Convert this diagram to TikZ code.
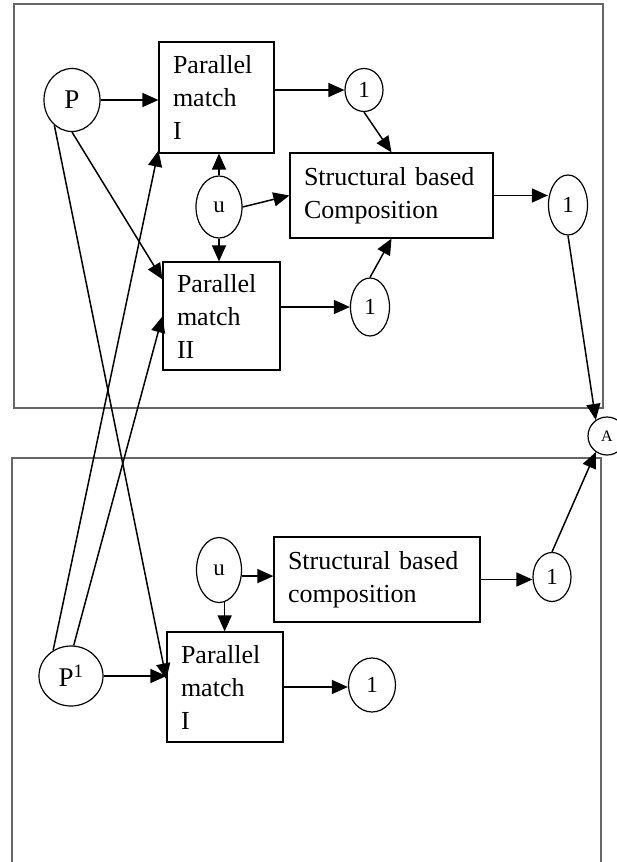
\documentclass[tikz,border=0pt]{standalone}
\usepackage{fontspec}
\setmainfont{Liberation Serif}
\usetikzlibrary{shapes.geometric,arrows.meta}
\begin{document}
\begin{tikzpicture}[x=1pt,y=-1pt,
    box/.style={draw,rectangle,line width=1.2pt,inner xsep=14pt,inner ysep=0pt,
        align=left,font=\fontsize{26}{33}\selectfont},
    circ/.style={draw,ellipse,fill=white,line width=1.2pt,inner sep=0pt,
        font=\fontsize{23}{23}\selectfont},
    frame/.style={draw=black!60,line width=1.6pt},
    arr/.style={-{Triangle[length=16pt,width=14pt]},line width=1.5pt}]
    \useasboundingbox (0,0) rectangle (617,862);
    % frames
    \draw[frame] (14,4) rectangle (603,408);
    \draw[frame] (12,862) -- (12,458) -- (601,458) -- (601,862);
    % upper part
    \node[circ,minimum width=56pt,minimum height=63pt,font=\fontsize{27}{27}\selectfont] (P) at (72,100) {P};
    \node[box,text width=87pt,minimum height=111pt] (pmA) at (216.5,97.5) {Parallel\\match\\I};
    \node[circ,minimum width=38pt,minimum height=43pt] (oneA) at (364,90) {1};
    \node[box,text width=175pt,minimum height=85pt] (struct) at (391.5,195.5) {Structural based\\Composition};
    \node[circ,minimum width=46pt,minimum height=62pt] (u) at (219,207) {u};
    \node[circ,minimum width=39pt,minimum height=60pt] (oneR) at (568,205) {1};
    \node[box,text width=89pt,minimum height=108pt] (pmB) at (221.5,316) {Parallel\\match\\II};
    \node[circ,minimum width=39pt,minimum height=58pt] (oneB) at (370,307) {1};
    \node[circ,circle,minimum size=38pt,font=\fontsize{16}{16}\selectfont] (A) at (607,436) {A};
    % lower part
    \node[circ,minimum width=45pt,minimum height=65pt] (uL) at (219,570) {u};
    \node[box,text width=178pt,minimum height=85pt] (structL) at (377,579.5) {Structural based\\composition};
    \node[circ,minimum width=38pt,minimum height=49pt] (oneL) at (552,577) {1};
    \node[circ,minimum width=64pt,minimum height=60pt,font=\fontsize{27}{27}\selectfont] (P1) at (71,676) {P\textsuperscript{1}};
    \node[box,text width=88pt,minimum height=110pt] (pmL) at (225,687) {Parallel\\match\\I};
    \node[circ,minimum width=47pt,minimum height=54pt] (oneM) at (372,685) {1};
    % arrows
    \draw[arr] (P.east) -- (P.east -| pmA.west);
    \draw[arr] (oneA.west -| pmA.east) -- (oneA.west);
    \draw[arr] (oneA.south) -- (struct.north);
    \draw[arr] (u.north) -- (u.north |- pmA.south);
    \draw[arr] (u.south) -- (u.south |- pmB.north);
    \draw[arr] (u.east) -- (struct.west);
    \draw[arr] (struct.east) -- (struct.east -| oneR.west);
    \draw[arr] (oneB.west -| pmB.east) -- (oneB.west);
    \draw[arr] (oneB.north) -- (struct.south);
    \draw[arr] (P.south) -- ([yshift=-18pt]pmB.north west);
    \draw[arr] (P.-125) -- ([yshift=-48pt]pmL.north west);
    \draw[arr] (P1.125) -- ([yshift=3pt]pmA.south west);
    \draw[arr] (P1.85) -- ([yshift=-55pt]pmB.north west);
    \draw[arr] (P1.east) -- (P1.east -| pmL.west);
    \draw[arr] (uL.-15) -- (uL.-15 -| structL.west);
    \draw[arr] (uL.-80) -- (uL.-80 |- pmL.north);
    \draw[arr] (structL.east) -- (structL.east -| oneL.west);
    \draw[arr] (oneL.north) -- (A.-125);
    \draw[arr] (pmL.east) -- (pmL.east -| oneM.west);
    \draw[arr] (oneR.south) -- (A.125);
\end{tikzpicture}
\end{document}
